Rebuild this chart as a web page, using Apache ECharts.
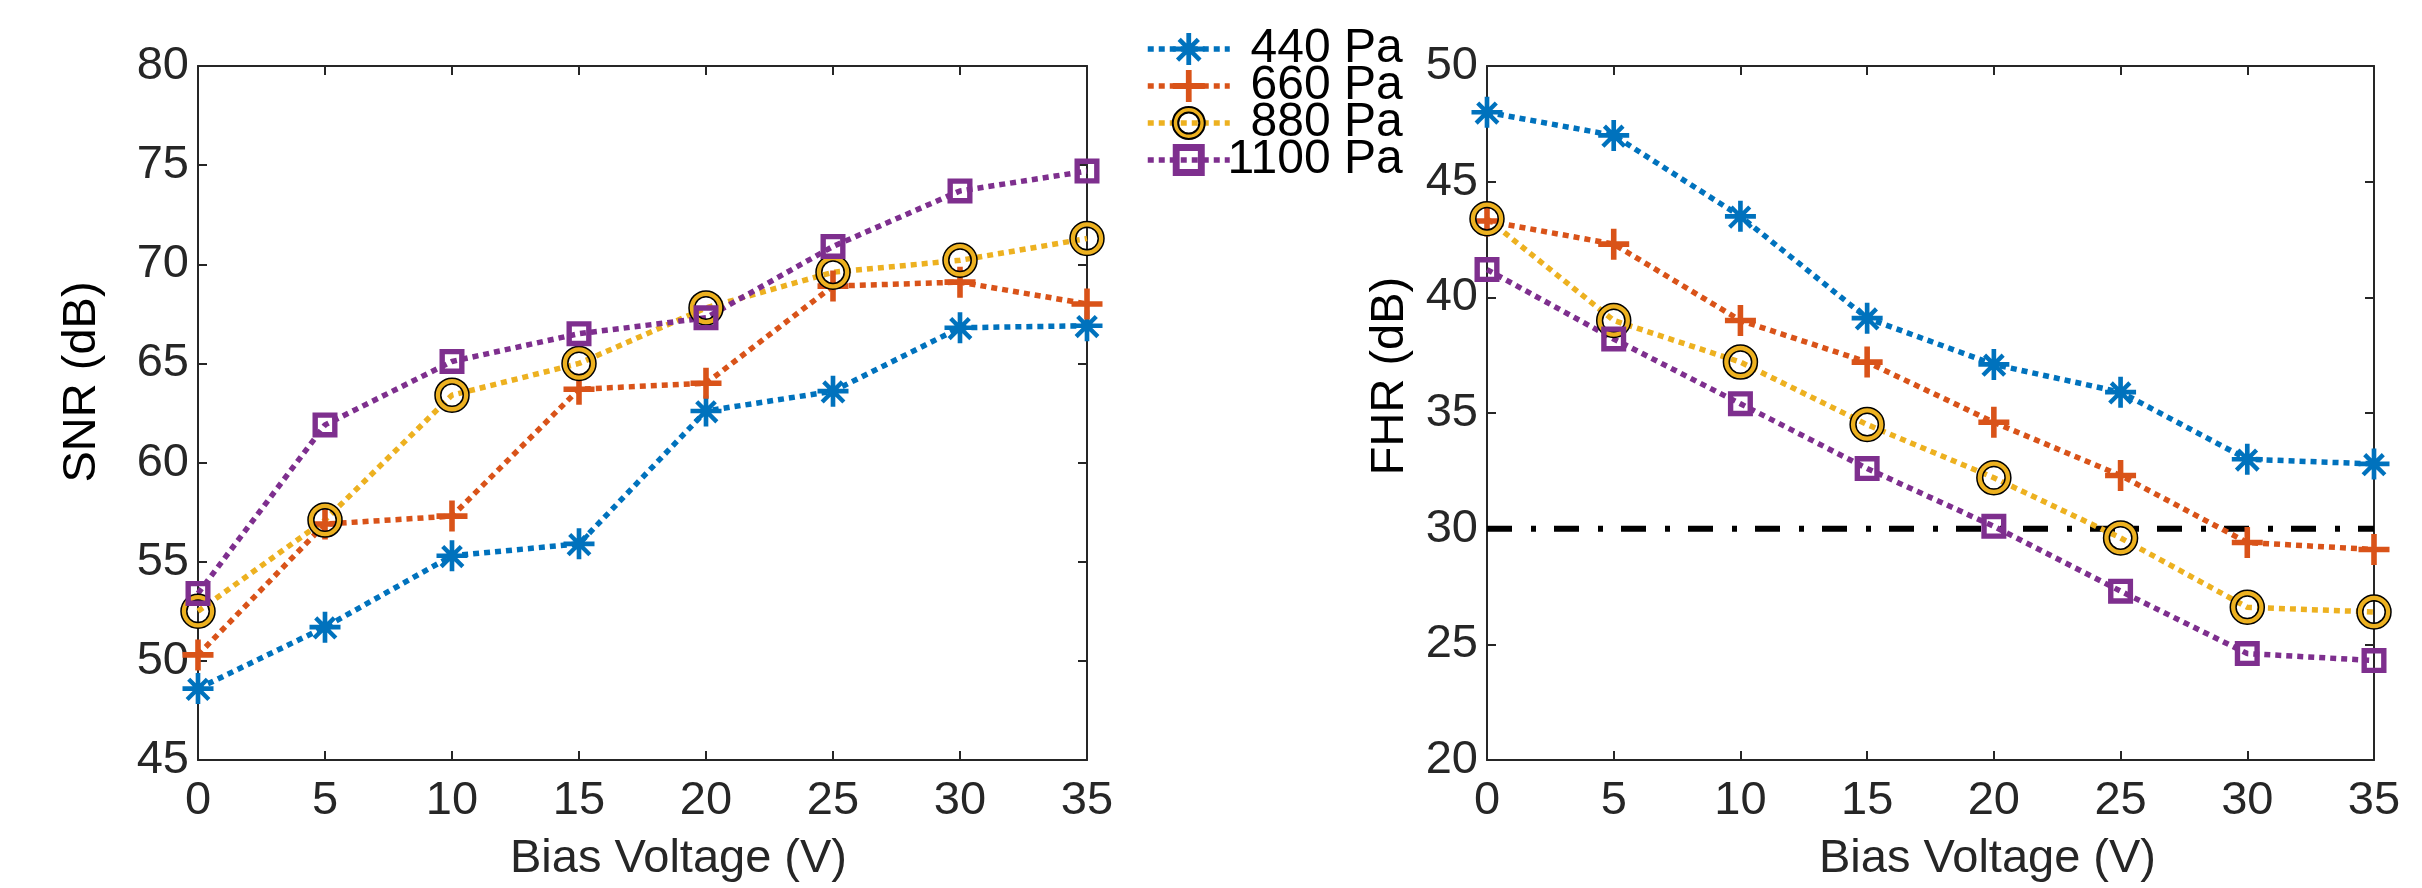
<!DOCTYPE html>
<html>
<head>
<meta charset="utf-8">
<script src="https://cdn.jsdelivr.net/npm/echarts@6/dist/echarts.min.js"></script>
<style>
  html, body { margin: 0; padding: 0; background: #fff; }
  #main { width: 2422px; height: 888px; }
</style>
</head>
<body>
<div id="main"></div>
<script>
// bias voltage (V), shared x values
var bias = [0, 5, 10, 15, 20, 25, 30, 35];
var names = ['440 Pa', '660 Pa', '880 Pa', '1100 Pa'];

// SNR (dB), left plot
var snr440 = [48.6, 51.7, 55.3, 55.9, 62.6, 63.6, 66.8, 66.9];
var snr660 = [50.3, 56.9, 57.3, 63.7, 64.0, 68.9, 69.1, 68.0];
var snr880 = [52.5, 57.1, 63.4, 65.0, 67.8, 69.6, 70.2, 71.3];
var snr1100 = [53.4, 61.9, 65.1, 66.5, 67.3, 70.9, 73.7, 74.7];

// FHR (dB), right plot
var fhr440 = [48.0, 47.0, 43.5, 39.1, 37.1, 35.9, 33.0, 32.8];
var fhr660 = [43.3, 42.3, 39.0, 37.2, 34.6, 32.3, 29.4, 29.1];
var fhr880 = [43.4, 39.0, 37.2, 34.5, 32.2, 29.6, 26.6, 26.4];
var fhr1100 = [41.2, 38.2, 35.4, 32.6, 30.1, 27.3, 24.6, 24.3];

// 30 dB limit line
var limitX = [0, 35];
var limitY = [30, 30];

var colors = ['#0072BD', '#D95319', '#EDB120', '#7E2F8E'];
var axisColor = '#262626';
var font = '"Liberation Sans", Arial, Helvetica, sans-serif';

// matlab-like markers
var asterisk = 'path://M8.5,0H11.5V20H8.5Z M0,8.5H20V11.5H0Z' +
  ' M5,3L18,16L16,18L3,5Z M15,3L17,5L4,18L2,16Z';
var plus = 'path://M8.2,0H11.8V20H8.2Z M0,8.2H20V11.8H0Z';
var ring = 'path://M10,0A10,10 0 1,1 10,20A10,10 0 1,1 10,0Z M10,3.4A6.6,6.6 0 1,0 10,16.6A6.6,6.6 0 1,0 10,3.4Z';
var square = 'path://M0,0H20V20H0Z M4.3,4.3V15.7H15.7V4.3Z';
var symbols = [asterisk, plus, ring, square];
var symSizes = [31, 31, 34, 25];

function pair(ys) {
  return bias.map(function (x, i) { return [x, ys[i]]; });
}

function makeSeries(i, ys, axis) {
  return {
    name: names[i],
    type: 'line',
    xAxisIndex: axis,
    yAxisIndex: axis,
    data: pair(ys),
    symbol: symbols[i],
    symbolSize: symSizes[i],
    showAllSymbol: true,
    lineStyle: { color: colors[i], width: 5.5, type: [6, 5], cap: 'butt' },
    itemStyle: {
      color: colors[i],
      borderColor: i === 2 ? '#000' : colors[i],
      borderWidth: i === 2 ? 1.5 : 0
    },
    emphasis: { disabled: true },
    z: 3
  };
}

function xAx(grid, top, nameShift) {
  return {
    type: 'value', gridIndex: grid, position: top ? 'top' : 'bottom',
    min: 0, max: 35, interval: 5,
    name: top ? '' : 'Bias Voltage (V)',
    nameLocation: 'middle', nameGap: 76,
    nameTextStyle: { fontFamily: font, fontSize: 47, color: axisColor, padding: [0, 0, 0, nameShift || 0] },
    axisLine: { show: true, onZero: false, lineStyle: { color: axisColor, width: 2 } },
    axisTick: { show: true, inside: true, length: 9, lineStyle: { color: axisColor, width: 2 } },
    axisLabel: { show: !top, fontFamily: font, fontSize: 47, color: axisColor, margin: 18 },
    splitLine: { show: false }
  };
}

function yAx(grid, right, min, max, title, gap, shift) {
  return {
    type: 'value', gridIndex: grid, position: right ? 'right' : 'left',
    min: min, max: max, interval: 5,
    name: right ? '' : title,
    nameLocation: 'middle', nameGap: gap,
    nameTextStyle: { fontFamily: font, fontSize: 47, color: '#000', padding: [0, 0, 0, shift || 0] },
    axisLine: { show: true, onZero: false, lineStyle: { color: axisColor, width: 2 } },
    axisTick: { show: true, inside: true, length: 9, lineStyle: { color: axisColor, width: 2 } },
    axisLabel: { show: !right, fontFamily: font, fontSize: 47, color: axisColor, margin: 9 },
    splitLine: { show: false }
  };
}

var chart = echarts.init(document.getElementById('main'));
chart.setOption({
  animation: false,
  backgroundColor: '#fff',
  grid: [
    { left: 198, top: 66, width: 889, height: 699 },
    { left: 1487, top: 66, width: 887, height: 699 }
  ],
  legend: {
    data: names,
    orient: 'vertical',
    left: 1140, top: 20,
    itemWidth: 82, itemHeight: 40, itemGap: -11,
    itemTextGap: 4,
    lineStyle: { width: 5.5, type: [6, 5] },
    formatter: '{a|{name}}',
    textStyle: {
      fontFamily: font, fontSize: 48, color: '#000',
      rich: { a: { width: 168, align: 'right', fontFamily: font, fontSize: 48 } }
    }
  },
  xAxis: [xAx(0, false, 72), xAx(0, true), xAx(1, false, 114), xAx(1, true)],
  yAxis: [
    yAx(0, false, 45, 80, 'SNR (dB)', 92, 62),
    yAx(0, true, 45, 80),
    yAx(1, false, 20, 50, 'FHR (dB)', 73, 74),
    yAx(1, true, 20, 50)
  ],
  series: [
    makeSeries(0, snr440, 0),
    makeSeries(1, snr660, 0),
    makeSeries(2, snr880, 0),
    makeSeries(3, snr1100, 0),
    {
      name: 'limit', type: 'line', xAxisIndex: 2, yAxisIndex: 2,
      data: limitX.map(function (x, i) { return [x, limitY[i]]; }),
      symbol: 'none',
      lineStyle: { color: '#000', width: 6, type: [25, 19, 5, 18], cap: 'butt' },
      emphasis: { disabled: true },
      z: 2
    },
    makeSeries(0, fhr440, 2),
    makeSeries(1, fhr660, 2),
    makeSeries(2, fhr880, 2),
    makeSeries(3, fhr1100, 2)
  ]
});
</script>
</body>
</html>
